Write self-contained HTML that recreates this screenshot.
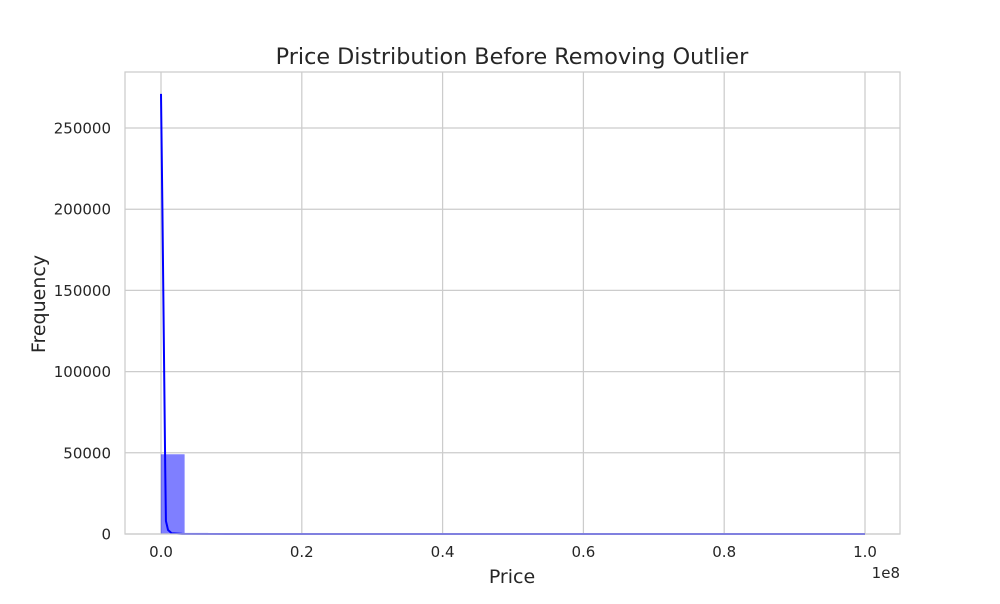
<!DOCTYPE html>
<html><head><meta charset="utf-8"><style>
body{margin:0;background:#fff;font-family:"DejaVu Sans",sans-serif;}
</style></head><body>
<svg id="chart" width="1000" height="600" xmlns="http://www.w3.org/2000/svg" font-family="DejaVu Sans, sans-serif">
<rect width="1000" height="600" fill="#fff"/>
<g id="grid"></g><g id="bars"></g><g id="kde"></g><g id="ticks"></g>
<rect x="125" y="72" width="775" height="462" fill="none" stroke="#cccccc" stroke-width="1.25"/>
<text x="512" y="64" text-anchor="middle" font-size="22.3" fill="#262626">Price Distribution Before Removing Outlier</text>
<text x="512" y="583" text-anchor="middle" font-size="19" fill="#262626">Price</text>
<text transform="translate(45,304) rotate(-90)" text-anchor="middle" font-size="19" fill="#262626">Frequency</text>
<text x="900" y="578" text-anchor="end" font-size="15" fill="#262626">1e8</text>
</svg>
<script>
const xTicks=[0,0.2e8,0.4e8,0.6e8,0.8e8,1e8];
const xTickLabels=["0.0","0.2","0.4","0.6","0.8","1.0"];
const yTicks=[0,50000,100000,150000,200000,250000];
const yTickLabels=["0","50000","100000","150000","200000","250000"];
const binCounts=[49000,600,150,60,30,20,10,8,5,4,3,2,2,2,1,1,1,1,1,1,1,1,1,1,1,1,1,1,1,1];
const kdeX=[0,2e5,4e5,6e5,7e5,1e6,1.5e6,3e6,1e7,1e8];
const kdeY=[271000,200000,120000,40000,8000,2500,500,100,10,0];
const NS="http://www.w3.org/2000/svg";
const xs=v=>161+v*(704/1e8);
const ys=v=>534-v*(406/250000);
function mk(t,a,p){const e=document.createElementNS(NS,t);for(const k in a)e.setAttribute(k,a[k]);document.getElementById(p).appendChild(e);return e;}
xTicks.forEach((v,i)=>{
 const l=mk('line',{x1:xs(v),x2:xs(v),y1:72,y2:534,stroke:'#cccccc','stroke-width':1.25},'grid');
 
 
 const t=mk('text',{x:xs(v),y:557,'text-anchor':'middle','font-size':15,fill:'#262626'},'ticks');
 t.textContent=xTickLabels[i];
 
 
});
yTicks.forEach((v,i)=>{
 const l=mk('line',{x1:125,x2:900,y1:ys(v),y2:ys(v),stroke:'#cccccc','stroke-width':1.25},'grid');
 
 
 const t=mk('text',{x:111,y:ys(v)+5.5,'text-anchor':'end','font-size':15,fill:'#262626'},'ticks');
 t.textContent=yTickLabels[i];
 
 
});
const bw=1e8/binCounts.length;
binCounts.forEach((c,i)=>{
 const x0=xs(i*bw),x1=xs((i+1)*bw),h=Math.max(534-ys(c),0);
 const r=mk('rect',{x:x0,y:534-h,width:x1-x0,height:h,fill:'rgba(0,0,255,0.5)',stroke:'rgba(0,0,255,0.2)','stroke-width':0.5},'bars');
 
 
});
const p=mk('polyline',{points:kdeX.map((v,i)=>xs(v)+','+ys(kdeY[i])).join(' '),fill:'none',stroke:'#0000ff','stroke-width':2},'kde');


</script>
</body></html>
